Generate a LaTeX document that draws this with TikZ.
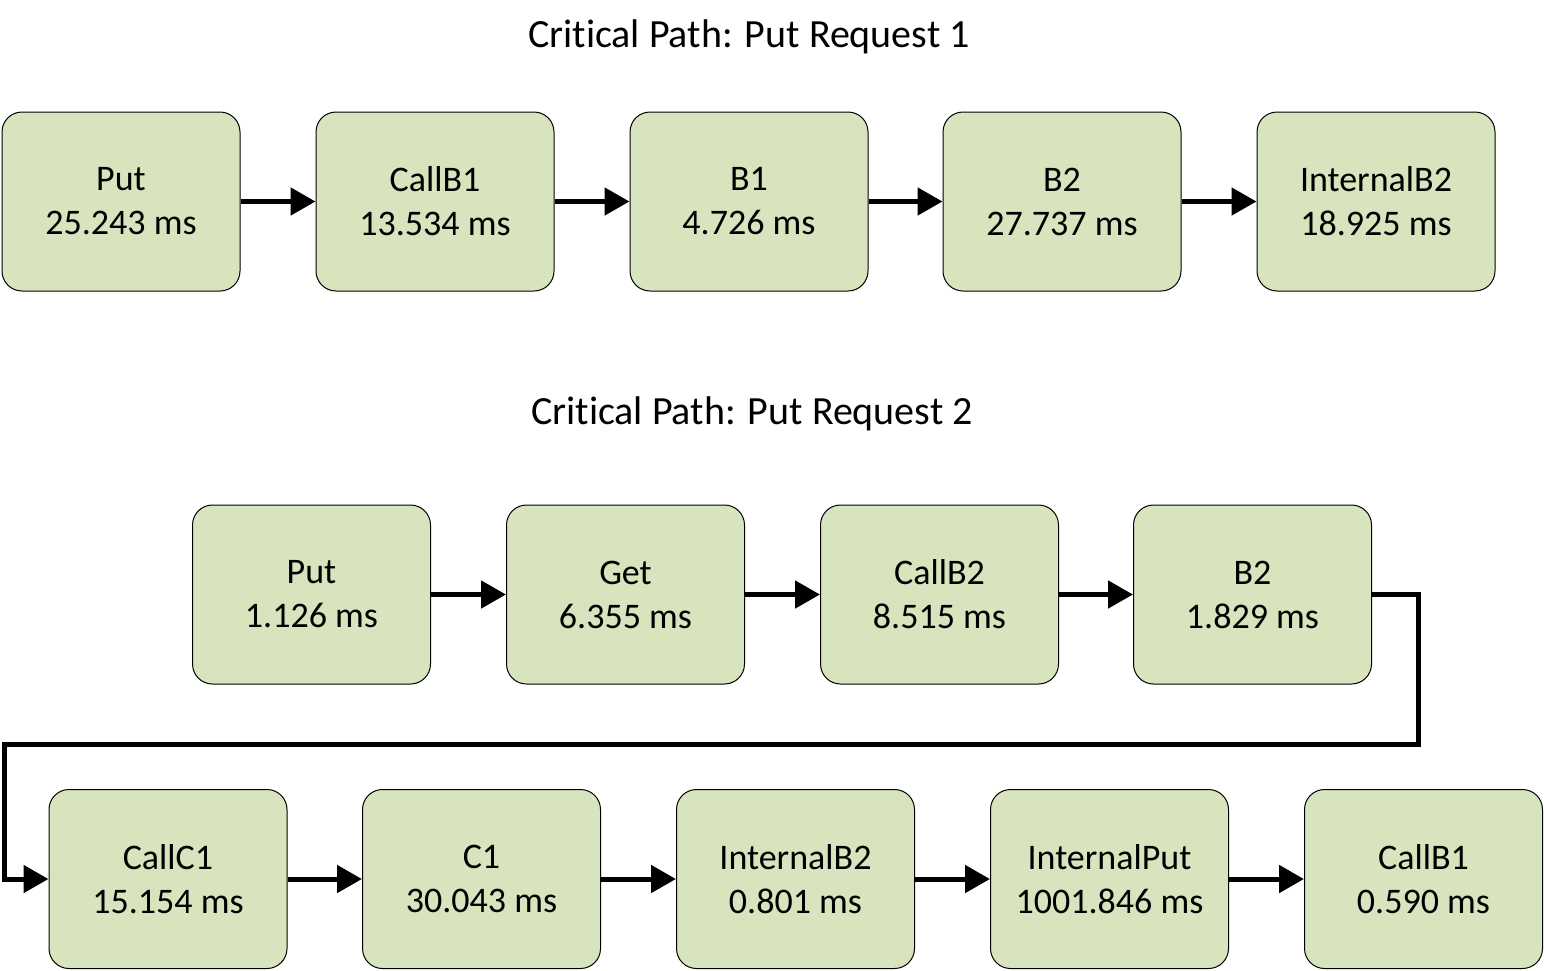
\documentclass[tikz,border=0pt]{standalone}
\usepackage{fontspec}
\setmainfont[RawFeature={-liga;-clig;-calt;-dlig}]{Carlito}
\usetikzlibrary{arrows.meta}
\definecolor{boxfill}{HTML}{D7E4BD}
\begin{document}
\begin{tikzpicture}[x=1pt,y=-1pt,
  stage/.style={draw=black, line width=1pt, fill=boxfill, rounded corners=20pt,
    minimum width=238pt, minimum height=179pt, inner sep=0pt, align=center,
    font=\fontsize{36}{44}\selectfont},
  ttl/.style={font=\fontsize{40}{46}\selectfont, inner sep=0pt},
  flow/.style={line width=5pt, -{Triangle[length=25pt,width=27pt]}}]
\useasboundingbox (0,0) rectangle (1544,970);
\node[ttl] (t1) at (749,37) {Cri\kern0ptt\kern0ptical Path: Put Request 1};
\node[ttl] (t2) at (752,414) {Cri\kern0ptt\kern0ptical Path: Put Request 2};
% row 1
\node[stage] (a1) at (121,201.5) {Put\\25.243 ms};
\node[stage] (a2) at (435,201.5) {CallB1\\13.534 ms};
\node[stage] (a3) at (749,201.5) {B1\\4.726 ms};
\node[stage] (a4) at (1062,201.5) {B2\\27.737 ms};
\node[stage] (a5) at (1376,201.5) {InternalB2\\18.925 ms};
% row 2
\node[stage] (b1) at (311.5,594.5) {Put\\1.126 ms};
\node[stage] (b2) at (625.5,594.5) {Get\\6.355 ms};
\node[stage] (b3) at (939.5,594.5) {CallB2\\8.515 ms};
\node[stage] (b4) at (1252.5,594.5) {B2\\1.829 ms};
% row 3
\node[stage] (c1) at (168,879) {CallC1\\15.154 ms};
\node[stage] (c2) at (481.5,879) {C1\\30.043 ms};
\node[stage] (c3) at (795.5,879) {InternalB2\\0.801 ms};
\node[stage] (c4) at (1109.5,879) {InternalPut\\1001.846 ms};
\node[stage] (c5) at (1423.5,879) {CallB1\\0.590 ms};
% connectors
\draw[flow] (a1.east) -- (a2.west);
\draw[flow] (a2.east) -- (a3.west);
\draw[flow] (a3.east) -- (a4.west);
\draw[flow] (a4.east) -- (a5.west);
\draw[flow] (b1.east) -- (b2.west);
\draw[flow] (b2.east) -- (b3.west);
\draw[flow] (b3.east) -- (b4.west);
\draw[flow] (b4.east) -| (1418,744) -- (4,744) |- (c1.west);
\draw[flow] (c1.east) -- (c2.west);
\draw[flow] (c2.east) -- (c3.west);
\draw[flow] (c3.east) -- (c4.west);
\draw[flow] (c4.east) -- (c5.west);
\end{tikzpicture}
\end{document}
